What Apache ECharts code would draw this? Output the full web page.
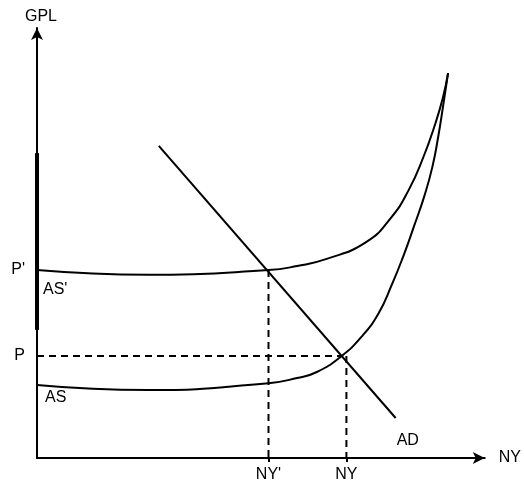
<!DOCTYPE html>
<html>
<head>
<meta charset="utf-8">
<script src="https://cdn.jsdelivr.net/npm/echarts@6/dist/echarts.min.js"></script>
<style>
  html, body { margin: 0; padding: 0; background: #fff; }
  #chart { width: 524px; height: 483px; }
</style>
</head>
<body>
<div id="chart"></div>
<script>
// curves, x = output (NY), y = price level (GPL)
const asShiftedX = [0, 24.9, 51.7, 58.1, 64.7, 73.5, 79.0, 83.0, 86.3, 89.0, 90.7, 91.8];
const asShiftedY = [43.7, 42.6, 43.7, 44.65, 46.3, 50.2, 55.8, 62.3, 70.0, 77.9, 84.0, 89.5];
const asX = [0, 24.9, 51.7, 58.1, 62.5, 68.0, 72.4, 76.2, 79.2, 81.9, 84.3, 86.5, 88.3, 89.6, 90.7, 91.8];
const asY = [17.0, 15.8, 17.4, 18.6, 20.0, 23.7, 28.1, 33.5, 40.2, 47.2, 54.2, 60.9, 67.7, 74.7, 81.9, 89.5];
const adX = [27.2, 80.1];
const adY = [72.6, 9.3];

// equilibrium levels
const outputNames = ["NY'", 'NY'];
const outputX = [51.7, 69.1];
const priceNames = ['P', "P'"];
const priceY = [23.7, 43.7];
const eqX = [51.7, 68.0];

// curve names and where they sit
const curveLabels = ["AS'", 'AS', 'AD'];
const curveLabelX = [0, 0, 80.1];
const curveLabelY = [43.7, 17.0, 9.3];

const font = 'Liberation Sans, Arial, sans-serif';
const black = '#000';
const textStyle = { color: black, fontSize: 16, fontFamily: font };

function pairs(xs, ys) {
    return xs.map((x, i) => [x, ys[i]]);
}

const curve = (name, data) => ({
    name, type: 'line', data, smooth: 0.5, symbol: 'none',
    lineStyle: { color: black, width: 2 }, z: 3
});

const dashed = (data) => ({
    type: 'line', data, symbol: 'none', silent: true,
    lineStyle: { color: black, width: 2, type: [7, 5] }, z: 2
});

const labelOffsets = [[6, 12], [8, 5], [1, 15]];

const chart = echarts.init(document.getElementById('chart'));
chart.setOption({
    animation: false,
    grid: { left: 37, right: 34, top: 28, bottom: 25 },
    xAxis: {
        type: 'value', min: 0, max: 100,
        name: 'NY', nameLocation: 'end', nameGap: 14,
        nameTextStyle: Object.assign({ verticalAlign: 'middle' }, textStyle),
        axisLine: { lineStyle: { color: black, width: 2 }, symbol: ['none', 'arrow'], symbolSize: [9, 12] },
        axisTick: { show: true, customValues: outputX, length: 4, lineStyle: { color: black, width: 2 } },
        axisLabel: Object.assign({
            customValues: outputX, margin: 9,
            formatter: v => outputNames[outputX.indexOf(v)]
        }, textStyle),
        splitLine: { show: false }
    },
    yAxis: {
        type: 'value', min: 0, max: 100,
        name: 'GPL', nameLocation: 'end', nameGap: 3,
        nameTextStyle: Object.assign({ align: 'left', padding: [0, 0, 0, -12] }, textStyle),
        axisLine: { lineStyle: { color: black, width: 2 }, symbol: ['none', 'arrow'], symbolSize: [9, 12] },
        axisTick: { show: false },
        axisLabel: Object.assign({
            customValues: priceY, margin: 12,
            formatter: v => priceNames[priceY.indexOf(v)]
        }, textStyle),
        splitLine: { show: false }
    },
    series: [
        curve("AS'", pairs(asShiftedX, asShiftedY)),
        curve('AS', pairs(asX, asY)),
        curve('AD', pairs(adX, adY)),
        dashed([[0, priceY[0]], [eqX[1], priceY[0]]]),
        dashed([[outputX[0], priceY[1]], [outputX[0], 0]]),
        dashed([[outputX[1], priceY[0]], [outputX[1], 0]]),
        {
            // thicker stretch of the price axis
            type: 'line', data: [[0, 70.9], [0, 29.8]], symbol: 'none', silent: true,
            lineStyle: { color: black, width: 4 }, z: 4
        },
        {
            type: 'scatter', symbolSize: 0, silent: true,
            itemStyle: { opacity: 1 },
            data: pairs(curveLabelX, curveLabelY).map((p, i) => ({
                value: p,
                label: {
                    show: true, formatter: curveLabels[i], position: labelOffsets[i],
                    color: black, fontSize: 16, fontFamily: font
                }
            }))
        }
    ]
});
</script>
</body>
</html>
